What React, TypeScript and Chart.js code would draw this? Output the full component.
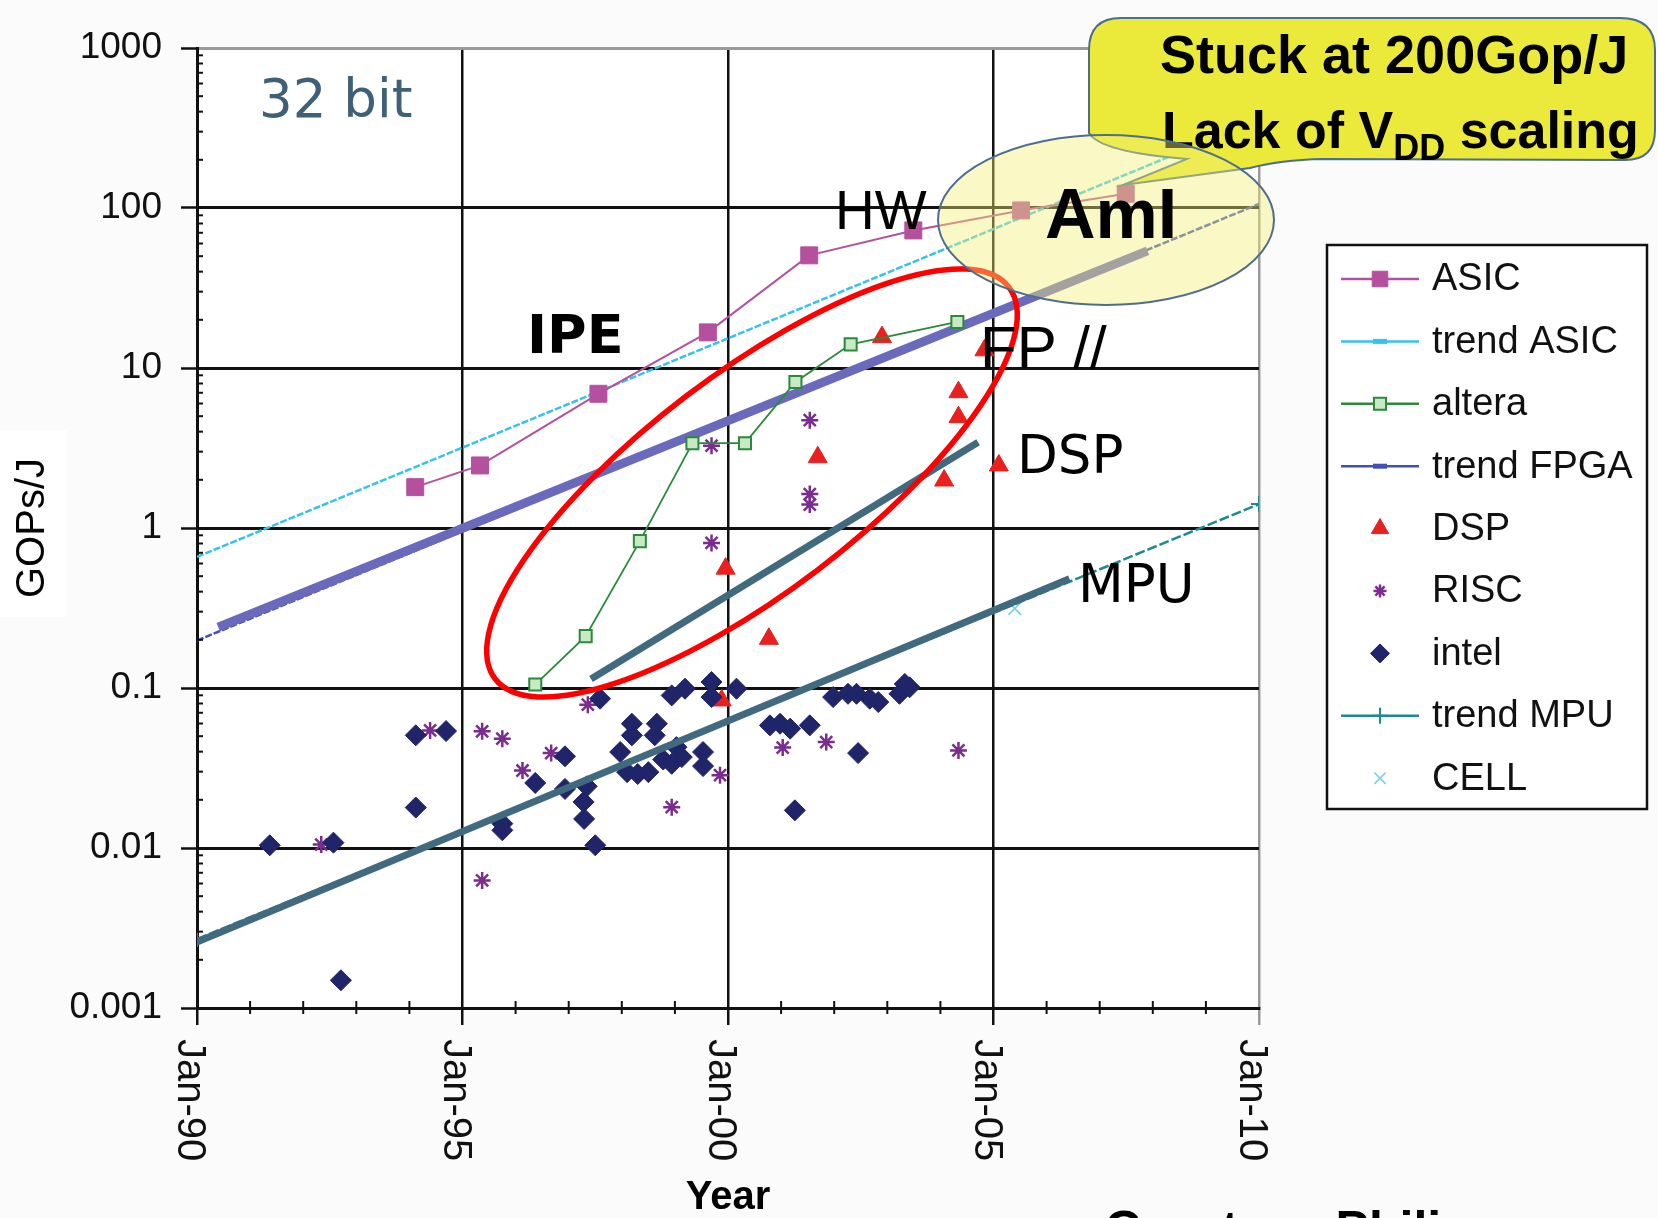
import React, { useEffect, useRef } from 'react';
import { Chart, registerables } from 'chart.js';
import { drawPoint } from 'chart.js/helpers';

Chart.register(...registerables);

// ---------------- data ----------------
const xTickYears = [1990, 1995, 2000, 2005, 2010];
const xTickLabels = ['Jan-90', 'Jan-95', 'Jan-00', 'Jan-05', 'Jan-10'];
const yTickValues = [0.001, 0.01, 0.1, 1, 10, 100, 1000];
const yTickLabels = ['0.001', '0.01', '0.1', '1', '10', '100', '1000'];

const asicYears = [1994.11, 1995.33, 1997.56, 1999.62, 2001.53, 2003.49, 2005.52, 2007.49];
const asicValues = [1.8, 2.46, 6.9, 16.7, 50.6, 72.4, 96.6, 122.8];

const trendAsicYears = [1990, 2010];
const trendAsicValues = [0.66, 356];

const alteraYears = [1996.37, 1997.32, 1998.34, 1999.33, 2000.32, 2001.27, 2002.31, 2004.32];
const alteraValues = [0.105, 0.211, 0.828, 3.39, 3.39, 8.17, 14.05, 19.4];

const trendFpgaYears = [1990, 2010];
const trendFpgaValues = [0.198, 106];

const dspYears = [1999.88, 1999.955, 2000.77, 2001.69, 2002.9, 2004.07, 2004.34, 2004.34, 2004.83, 2005.1];
const dspValues = [0.0836, 0.557, 0.203, 2.77, 15.6, 1.98, 7.06, 4.93, 12.9, 2.46];

const riscYears = [1992.34, 1994.39, 1995.37, 1995.75, 1996.13, 1996.67, 1995.37, 1997.36, 1998.94, 1999.85, 2001.03, 2001.85, 2004.34, 1999.69, 2001.54, 2001.54, 2001.54, 1999.69];
const riscValues = [0.0105, 0.0543, 0.0536, 0.0482, 0.0305, 0.0392, 0.00627, 0.0787, 0.018, 0.0285, 0.0424, 0.0459, 0.0407, 3.27, 4.72, 1.63, 1.4, 0.807];

const intelYears = [1991.37, 1992.57, 1992.71, 1994.12, 1994.69, 1994.12, 1995.75, 1995.75, 1996.37, 1996.93, 1996.93, 1997.34, 1997.28, 1997.29, 1997.5, 1997.59, 1997.97, 1998.19, 1998.19, 1998.66, 1998.62, 1998.1, 1998.3, 1998.5, 1998.78, 1999.03, 1999.13, 1998.94, 1999.53, 1999.53, 1998.94, 1999.19, 1999.69, 1999.69, 2000.16, 2000.79, 2000.98, 2001.17, 2001.54, 2002.45, 2001.26, 2001.98, 2002.26, 2002.42, 2002.67, 2002.83, 2003.23, 2003.33, 2003.42];
const intelValues = [0.0104, 0.0108, 0.00149, 0.0506, 0.0538, 0.0179, 0.0142, 0.0129, 0.0255, 0.0374, 0.0234, 0.0243, 0.0194, 0.0152, 0.0104, 0.0857, 0.0398, 0.0598, 0.0506, 0.0598, 0.0506, 0.0298, 0.029, 0.0298, 0.0357, 0.0427, 0.037, 0.0336, 0.0398, 0.0325, 0.0899, 0.099, 0.109, 0.0877, 0.099, 0.0584, 0.0598, 0.0557, 0.0584, 0.0392, 0.0172, 0.0877, 0.092, 0.092, 0.0857, 0.0817, 0.092, 0.106, 0.101];

const trendMpuYears = [1990, 2010];
const trendMpuValues = [0.0027, 1.41];

const cellYears = [2005.4];
const cellValues = [0.314];

// hand-drawn emphasis bands of the slide (trend overlays)
const fpgaBandYears = [1990.4, 2007.9];
const fpgaBandValues = [0.24, 54];
const dspBandYears = [1997.42, 2004.71];
const dspBandValues = [0.114, 3.44];
const mpuBandYears = [1990, 2006.43];
const mpuBandValues = [0.00258, 0.482];

const legendOrder = ['ASIC', 'trend ASIC', 'altera', 'trend FPGA', 'DSP', 'RISC', 'intel', 'trend MPU', 'CELL'];

// ---------------------------------------
const zip = (xs: number[], ys: number[]) => xs.map((x, i) => ({ x, y: ys[i] }));
const SANS = "'Liberation Sans', Arial, sans-serif";
const DEJA = "'DejaVu Sans', Verdana, sans-serif";

const isPow10 = (v: number) => {
  if (!(v > 0)) return false;
  const l = Math.log10(v);
  return Math.abs(l - Math.round(l)) < 1e-6;
};

const legendMarks: Record<string, { style?: string; r?: number; bar?: boolean }> = {
  'ASIC': { style: 'rect', r: 11 },
  'trend ASIC': { bar: true },
  'altera': { style: 'rect', r: 8.5 },
  'trend FPGA': { bar: true },
  'DSP': { style: 'triangle', r: 10 },
  'RISC': { style: 'star', r: 6.5 },
  'intel': { style: 'rectRot', r: 9.5 },
  'trend MPU': { style: 'cross', r: 8 },
  'CELL': { style: 'crossRot', r: 8 },
};

const decorPlugin = {
  id: 'decor',
  beforeDraw(chart: any) {
    const { ctx, chartArea: a, width, height } = chart;
    ctx.save();
    ctx.fillStyle = '#fbfbfb';
    ctx.fillRect(0, 0, width, height);
    ctx.fillStyle = '#ffffff';
    ctx.fillRect(a.left, a.top, a.right - a.left, a.bottom - a.top);
    ctx.fillRect(0, 430, 67, 187);
    ctx.restore();
  },
  afterDraw(chart: any) {
    const { ctx, chartArea: a } = chart;
    const xs = chart.scales.x;
    const ys = chart.scales.y;
    ctx.save();

    // minor ticks on y axis
    ctx.strokeStyle = '#111';
    ctx.lineWidth = 2;
    for (let n = -3; n <= 2; n++) {
      for (let k = 2; k <= 9; k++) {
        const y = ys.getPixelForValue(k * Math.pow(10, n));
        ctx.beginPath();
        ctx.moveTo(a.left, y);
        ctx.lineTo(a.left + 6, y);
        ctx.stroke();
      }
    }
    // minor (yearly) ticks on x axis
    for (let yr = 1991; yr < 2010; yr++) {
      if (yr % 5 === 0) continue;
      const x = xs.getPixelForValue(yr);
      ctx.beginPath();
      ctx.moveTo(x, a.bottom - 7);
      ctx.lineTo(x, a.bottom + 6);
      ctx.stroke();
    }

    // x tick labels, rotated clockwise
    ctx.fillStyle = '#111';
    ctx.font = `40px ${SANS}`;
    xTickYears.forEach((yr, i) => {
      const x = xs.getPixelForValue(yr);
      ctx.save();
      ctx.translate(x, a.bottom + 31);
      ctx.rotate(Math.PI / 2);
      ctx.textAlign = 'left';
      ctx.textBaseline = 'alphabetic';
      ctx.fillText(xTickLabels[i], 0, 19);
      ctx.restore();
    });

    // red ellipse
    ctx.beginPath();
    ctx.ellipse(752, 483, 323, 109, (-37.3 * Math.PI) / 180, 0, Math.PI * 2);
    ctx.strokeStyle = '#ff0000';
    ctx.lineWidth = 5.5;
    ctx.stroke();

    // callout
    ctx.beginPath();
    ctx.moveTo(1121, 18);
    ctx.lineTo(1620, 18);
    ctx.quadraticCurveTo(1655, 18, 1655, 50);
    ctx.lineTo(1655, 130);
    ctx.quadraticCurveTo(1655, 160, 1625, 160);
    ctx.lineTo(1323, 159);
    ctx.quadraticCurveTo(1280, 160, 1250, 168);
    ctx.lineTo(1123, 185);
    ctx.lineTo(1187, 159);
    ctx.quadraticCurveTo(1100, 152, 1089, 133);
    ctx.lineTo(1089, 50);
    ctx.quadraticCurveTo(1089, 18, 1121, 18);
    ctx.closePath();
    ctx.fillStyle = '#ebe93a';
    ctx.fill();
    ctx.strokeStyle = '#4d6d8c';
    ctx.lineWidth = 2;
    ctx.stroke();

    ctx.fillStyle = '#000';
    ctx.textAlign = 'left';
    ctx.textBaseline = 'alphabetic';
    ctx.font = `bold 54px ${SANS}`;
    ctx.fillText('Stuck at 200Gop/J', 1160, 73);
    ctx.font = `bold 52px ${SANS}`;
    const p1 = 'Lack of V';
    ctx.fillText(p1, 1162, 148);
    let cx = 1162 + ctx.measureText(p1).width;
    ctx.font = `bold 36px ${SANS}`;
    ctx.fillText('DD', cx, 160);
    cx += ctx.measureText('DD').width;
    ctx.font = `bold 52px ${SANS}`;
    ctx.fillText(' scaling', cx, 148);

    // AmI ellipse (translucent)
    ctx.beginPath();
    ctx.ellipse(1106, 220, 168, 85, 0, 0, Math.PI * 2);
    ctx.fillStyle = 'rgba(242,240,120,0.42)';
    ctx.fill();
    ctx.strokeStyle = '#4f6e8e';
    ctx.lineWidth = 2;
    ctx.stroke();

    // annotations
    ctx.fillStyle = '#3e6079';
    ctx.font = `53px ${DEJA}`;
    ctx.fillText('32 bit', 259, 117);
    ctx.fillStyle = '#000';
    ctx.font = `bold 54px ${DEJA}`;
    ctx.fillText('IPE', 527, 353);
    ctx.font = `55px ${SANS}`;
    ctx.fillText('HW', 835, 229);
    ctx.font = `bold 70px ${SANS}`;
    ctx.fillText('AmI', 1045, 238);
    ctx.font = `60px ${SANS}`;
    ctx.fillText('FP //', 980, 368);
    ctx.font = `53px ${DEJA}`;
    ctx.fillText('DSP', 1017, 473);
    ctx.fillText('MPU', 1078, 602);

    // legend
    const lx0 = 1327, ly0 = 245, lx1 = 1647, ly1 = 809;
    ctx.fillStyle = '#ffffff';
    ctx.fillRect(lx0, ly0, lx1 - lx0, ly1 - ly0);
    ctx.strokeStyle = '#111';
    ctx.lineWidth = 2.5;
    ctx.strokeRect(lx0, ly0, lx1 - lx0, ly1 - ly0);
    ctx.font = `38px ${SANS}`;
    ctx.textBaseline = 'middle';
    legendOrder.forEach((name, i) => {
      const ds = chart.data.datasets.find((d: any) => d.label === name);
      if (!ds) return;
      const y = 279 + i * 62.4;
      const mx = 1380;
      if (ds.showLine) {
        ctx.beginPath();
        ctx.moveTo(1341, y);
        ctx.lineTo(1419, y);
        ctx.strokeStyle = ds.borderColor;
        ctx.lineWidth = 2.5;
        ctx.setLineDash([]);
        ctx.stroke();
      }
      const m = legendMarks[name];
      if (m.bar) {
        ctx.fillStyle = ds.borderColor;
        ctx.fillRect(mx - 7, y - 2.5, 14, 5);
      } else if (m.style) {
        ctx.fillStyle = ds.pointBackgroundColor || ds.borderColor;
        ctx.strokeStyle = ds.pointBorderColor || ds.borderColor;
        ctx.lineWidth = ds.pointBorderWidth || 1;
        drawPoint(ctx, { pointStyle: m.style, radius: m.r, rotation: 0, borderWidth: ds.pointBorderWidth || 1 } as any, mx, y);
      }
      ctx.fillStyle = '#111';
      ctx.fillText(name, 1432, y + 1);
    });

    // credit (cut by the image edge)
    ctx.textBaseline = 'alphabetic';
    ctx.fillStyle = '#000';
    ctx.font = `bold 50px ${SANS}`;
    ctx.fillText('Courtesy Philips', 1105, 1246);

    ctx.restore();
  },
};

export default function App() {
  const canvasRef = useRef<HTMLCanvasElement | null>(null);

  useEffect(() => {
    const canvas = canvasRef.current;
    if (!canvas) return;

    const datasets: any[] = [
      {
        label: 'ASIC', data: zip(asicYears, asicValues), showLine: true,
        borderColor: '#b5509f', borderWidth: 2, pointStyle: 'rect', pointRadius: 12,
        pointBackgroundColor: '#b5509f', pointBorderColor: '#b5509f', pointBorderWidth: 1,
      },
      {
        label: 'altera', data: zip(alteraYears, alteraValues), showLine: true,
        borderColor: '#2a8a3a', borderWidth: 1.8, pointStyle: 'rect', pointRadius: 8.5,
        pointBackgroundColor: '#c9e8c4', pointBorderColor: '#2a8a3a', pointBorderWidth: 2,
      },
      {
        label: 'FPGA band', data: zip(fpgaBandYears, fpgaBandValues), showLine: true,
        borderColor: '#6a6abd', borderWidth: 9, pointRadius: 0, borderCapStyle: 'butt',
      },
      {
        label: 'DSP band', data: zip(dspBandYears, dspBandValues), showLine: true,
        borderColor: '#416a7e', borderWidth: 7, pointRadius: 0, borderCapStyle: 'butt',
      },
      {
        label: 'MPU band', data: zip(mpuBandYears, mpuBandValues), showLine: true,
        borderColor: '#416a7e', borderWidth: 7, pointRadius: 0, borderCapStyle: 'butt',
      },
      {
        label: 'trend ASIC', data: zip(trendAsicYears, trendAsicValues), showLine: true,
        borderColor: '#35c3ee', borderWidth: 2.5, borderDash: [7, 2], pointRadius: 0,
      },
      {
        label: 'trend FPGA', data: zip(trendFpgaYears, trendFpgaValues), showLine: true,
        borderColor: '#4050b4', borderWidth: 2.5, borderDash: [7, 2], pointRadius: 0,
      },
      {
        label: 'trend MPU', data: zip(trendMpuYears, trendMpuValues), showLine: true,
        borderColor: '#1d8a8c', borderWidth: 2.5, borderDash: [10, 3], pointStyle: 'cross',
        pointRadius: 8, pointBorderColor: '#1d8a8c', pointBorderWidth: 2,
      },
      {
        label: 'intel', data: zip(intelYears, intelValues), showLine: false,
        pointStyle: 'rectRot', pointRadius: 10.5, backgroundColor: '#202468', borderColor: '#202468',
        pointBackgroundColor: '#202468', pointBorderColor: '#202468', pointBorderWidth: 1,
      },
      {
        label: 'DSP', data: zip(dspYears, dspValues), showLine: false,
        pointStyle: 'triangle', pointRadius: 11, backgroundColor: '#e82020', borderColor: '#e82020',
        pointBackgroundColor: '#e82020', pointBorderColor: '#e82020', pointBorderWidth: 1,
      },
      {
        label: 'RISC', data: zip(riscYears, riscValues), showLine: false,
        pointStyle: 'star', pointRadius: 8.5, borderColor: '#7b2d8e',
        pointBackgroundColor: '#7b2d8e', pointBorderColor: '#7b2d8e', pointBorderWidth: 2.5,
      },
      {
        label: 'CELL', data: zip(cellYears, cellValues), showLine: false,
        pointStyle: 'crossRot', pointRadius: 9, borderColor: '#6fd3e3',
        pointBackgroundColor: '#6fd3e3', pointBorderColor: '#6fd3e3', pointBorderWidth: 1.5,
      },
    ];

    const chart = new Chart(canvas, {
      type: 'scatter',
      data: { datasets },
      options: {
        animation: false,
        responsive: true,
        maintainAspectRatio: false,
        devicePixelRatio: 1,
        events: [],
        layout: { padding: { left: 0, right: 399, top: 48, bottom: 0 } },
        plugins: { legend: { display: false }, tooltip: { enabled: false } },
        scales: {
          x: {
            type: 'linear',
            position: 'bottom',
            min: 1990,
            max: 2010,
            afterFit: (s: any) => { s.height = 210; },
            ticks: { display: false, stepSize: 5 },
            grid: {
              color: (c: any) => (c.tick && c.tick.value === 2010 ? '#9a9a9a' : '#111'),
              tickColor: (c: any) => (c.tick && c.tick.value === 2010 ? '#9a9a9a' : '#111'),
              lineWidth: 2.5,
              tickWidth: 2.5,
              drawTicks: true,
              tickLength: 17,
            },
            border: { display: true, color: '#111', width: 3 },
            title: {
              display: true, text: 'Year', color: '#000',
              font: { family: SANS, size: 40, weight: 'bold', lineHeight: 1 },
              padding: { top: 0, bottom: 0 },
            },
          },
          y: {
            type: 'logarithmic',
            min: 0.001,
            max: 1000,
            afterFit: (s: any) => { s.width = 197; },
            ticks: {
              autoSkip: false,
              padding: 19,
              color: '#111',
              font: { family: SANS, size: 37 },
              callback: (v: any) => {
                const val = Number(v);
                const i = yTickValues.findIndex((t) => Math.abs(Math.log10(t) - Math.log10(val)) < 1e-6);
                return i >= 0 ? yTickLabels[i] : '';
              },
            },
            grid: {
              color: (c: any) => {
                const v = c.tick ? c.tick.value : 0;
                if (!isPow10(v)) return 'rgba(0,0,0,0)';
                return v > 999 ? '#9a9a9a' : '#111';
              },
              tickColor: (c: any) => (c.tick && isPow10(c.tick.value) ? '#111' : 'rgba(0,0,0,0)'),
              lineWidth: 3,
              tickWidth: 2.5,
              tickLength: 16,
            },
            border: { display: true, color: '#111', width: 3 },
            title: {
              display: true, text: 'GOPs/J', color: '#000',
              font: { family: SANS, size: 40 },
              padding: { top: 9, bottom: 0 },
            },
          },
        },
      } as any,
      plugins: [decorPlugin],
    });

    return () => chart.destroy();
  }, []);

  return (
    <div style={{ position: 'fixed', left: 0, top: 0, width: 1658, height: 1218 }}>
      <canvas ref={canvasRef} />
    </div>
  );
}
